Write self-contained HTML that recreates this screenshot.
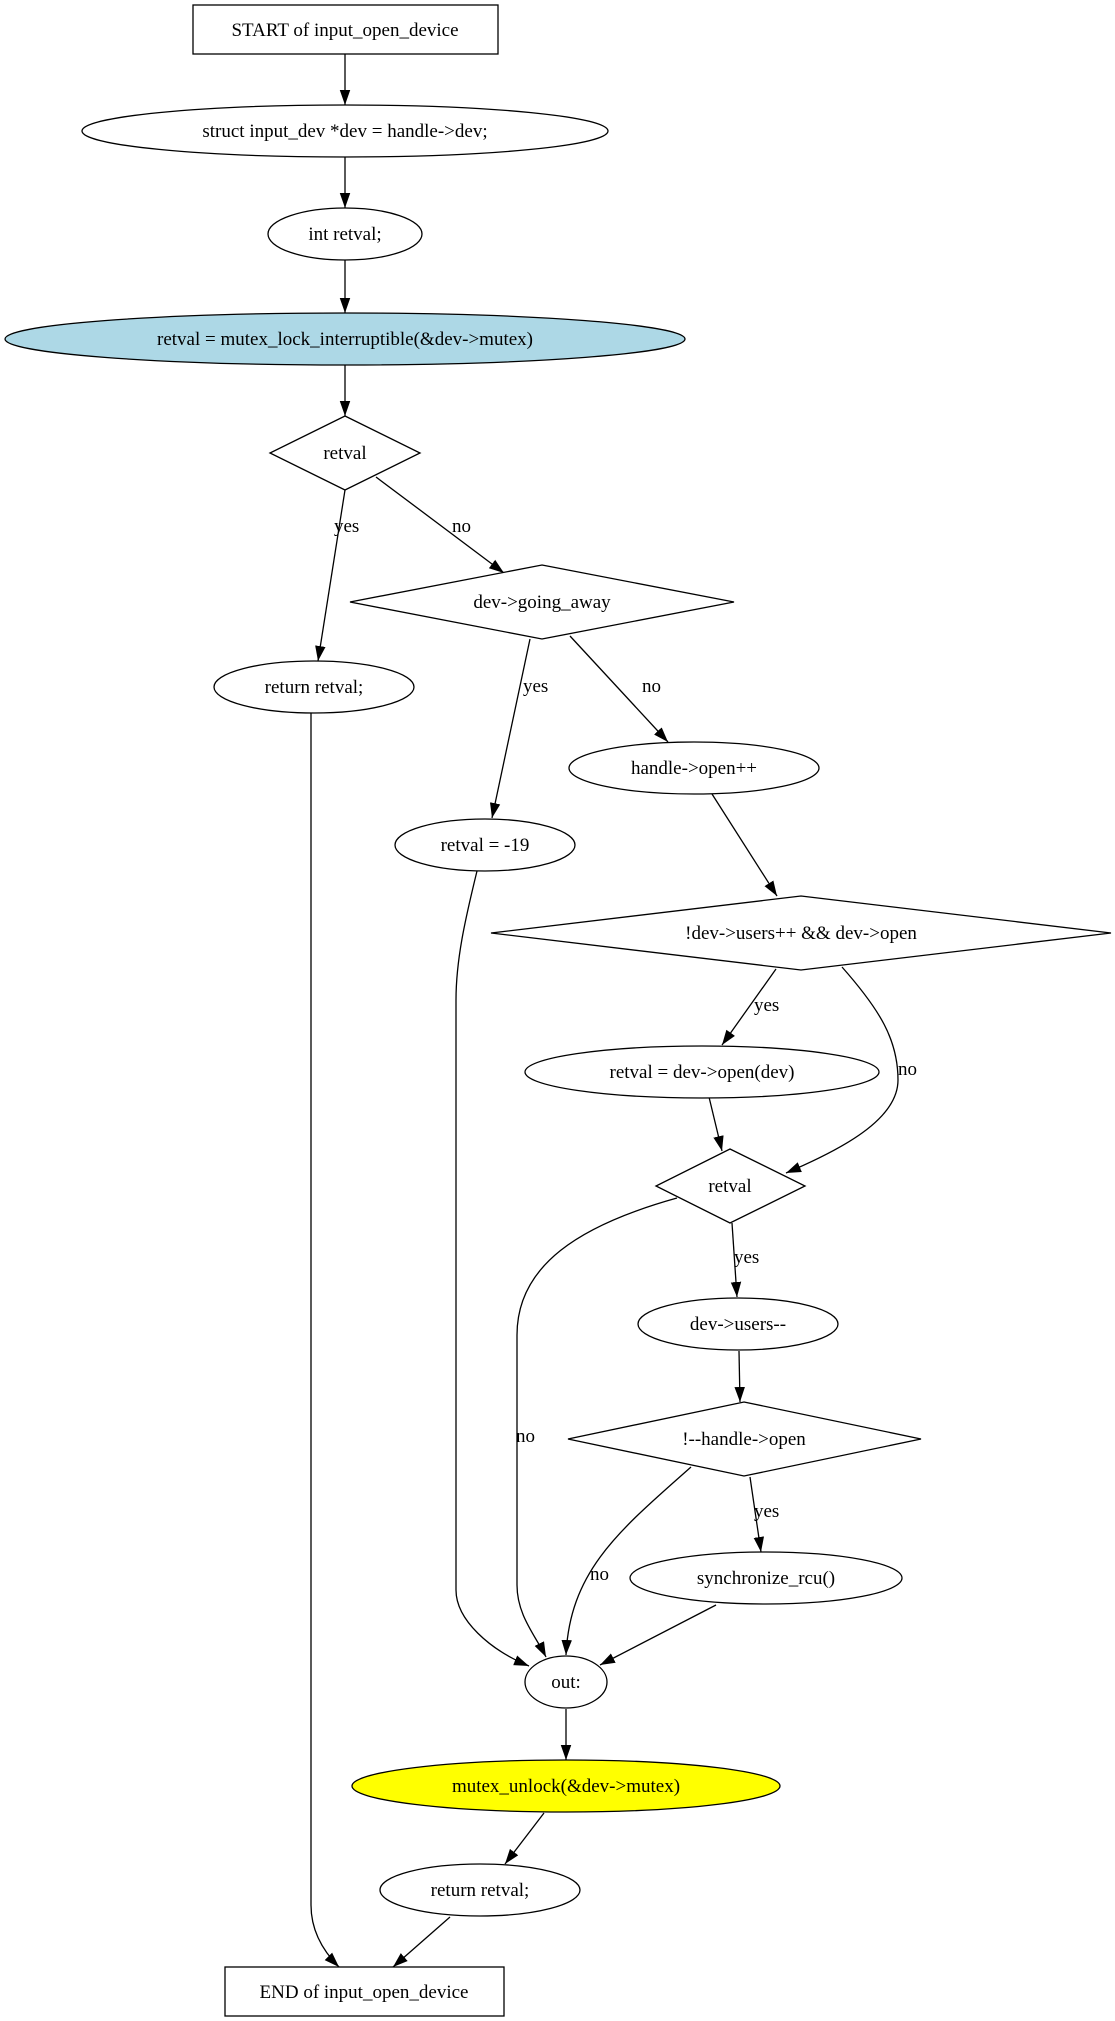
<!DOCTYPE html>
<html><head><meta charset="utf-8"><style>
html,body{margin:0;padding:0;background:#fff;}
svg{display:block;}
text{font-family:"Liberation Serif",serif;font-size:19px;fill:#000;}
</style></head><body>
<svg width="1115" height="2021" viewBox="0 0 1115 2021" xmlns="http://www.w3.org/2000/svg">
<defs>
<marker id="a" viewBox="0 0 10 10" refX="10" refY="5" markerWidth="15" markerHeight="15" markerUnits="userSpaceOnUse" orient="auto">
<path d="M0,1.5 L10,5 L0,8.5 z" fill="#000"/>
</marker>
</defs>
<g fill="none" stroke="#000" stroke-width="1.3" marker-end="url(#a)">
<path d="M345,54 L345,105"/>
<path d="M345,157 L345,208"/>
<path d="M345,260 L345,313"/>
<path d="M345,365 L345,416"/>
<path d="M345,490 L318,661"/>
<path d="M376,477 L504,573"/>
<path d="M530,639 L492,818"/>
<path d="M570,636 L668,742"/>
<path d="M712,794 L777,896"/>
<path d="M776,969 L722,1045"/>
<path d="M842,967 C880,1010 898,1040 898,1080 C898,1120 840,1150 786,1173"/>
<path d="M709,1097 L722,1151"/>
<path d="M732,1223 L737,1297"/>
<path d="M739,1351 L740,1402"/>
<path d="M750,1477 L761,1552"/>
<path d="M716,1605 L600,1665"/>
<path d="M691,1467 C620,1530 570,1570 566,1655"/>
<path d="M677,1198 C580,1225 517,1265 517,1335 L517,1585 C517,1615 535,1635 546,1657"/>
<path d="M477,871 C465,920 456,960 456,1000 L456,1590 C456,1620 490,1650 529,1666"/>
<path d="M311,713 L311,1905 C311,1930 322,1950 339,1967"/>
<path d="M566,1709 L566,1760"/>
<path d="M544,1813 L505,1864"/>
<path d="M450,1917 L393,1967"/>
</g>
<g stroke="#000" stroke-width="1.3">
<rect x="193" y="5" width="305" height="49" fill="#fff"/>
<ellipse cx="345" cy="131" rx="263" ry="26" fill="#fff"/>
<ellipse cx="345" cy="234" rx="77" ry="26" fill="#fff"/>
<ellipse cx="345" cy="339" rx="340" ry="26" fill="#add8e6"/>
<polygon points="345,416 420,453 345,490 270,453" fill="#fff"/>
<polygon points="542,565 734,602 542,639 350,602" fill="#fff"/>
<ellipse cx="314" cy="687" rx="100" ry="26" fill="#fff"/>
<ellipse cx="694" cy="768" rx="125" ry="26" fill="#fff"/>
<ellipse cx="485" cy="845" rx="90" ry="26" fill="#fff"/>
<polygon points="801,896 1111,933 801,970 491,933" fill="#fff"/>
<ellipse cx="702" cy="1072" rx="177" ry="26" fill="#fff"/>
<polygon points="730,1149 805,1186 730,1223 656,1186" fill="#fff"/>
<ellipse cx="738" cy="1324" rx="100" ry="26" fill="#fff"/>
<polygon points="744,1402 921,1439 744,1476 568,1439" fill="#fff"/>
<ellipse cx="766" cy="1578" rx="136" ry="26" fill="#fff"/>
<ellipse cx="566" cy="1682" rx="41" ry="26" fill="#fff"/>
<ellipse cx="566" cy="1786" rx="214" ry="26" fill="#ffff00"/>
<ellipse cx="480" cy="1890" rx="100" ry="26" fill="#fff"/>
<rect x="225" y="1967" width="279" height="49" fill="#fff"/>
</g>
<g text-anchor="middle">
<text x="345" y="36">START of input_open_device</text>
<text x="345" y="137">struct input_dev *dev = handle-&gt;dev;</text>
<text x="345" y="240">int retval;</text>
<text x="345" y="345">retval = mutex_lock_interruptible(&amp;dev-&gt;mutex)</text>
<text x="345" y="459">retval</text>
<text x="542" y="608">dev-&gt;going_away</text>
<text x="314" y="693">return retval;</text>
<text x="694" y="774">handle-&gt;open++</text>
<text x="485" y="851">retval = -19</text>
<text x="801" y="939">!dev-&gt;users++ &amp;&amp; dev-&gt;open</text>
<text x="702" y="1078">retval = dev-&gt;open(dev)</text>
<text x="730" y="1192">retval</text>
<text x="738" y="1330">dev-&gt;users--</text>
<text x="744" y="1445">!--handle-&gt;open</text>
<text x="766" y="1584">synchronize_rcu()</text>
<text x="566" y="1688">out:</text>
<text x="566" y="1792">mutex_unlock(&amp;dev-&gt;mutex)</text>
<text x="480" y="1896">return retval;</text>
<text x="364" y="1998">END of input_open_device</text>
</g>
<g>
<text x="334" y="532">yes</text>
<text x="452" y="532">no</text>
<text x="523" y="692">yes</text>
<text x="642" y="692">no</text>
<text x="754" y="1011">yes</text>
<text x="898" y="1075">no</text>
<text x="734" y="1263">yes</text>
<text x="516" y="1442">no</text>
<text x="590" y="1580">no</text>
<text x="754" y="1517">yes</text>
</g>
</svg>
</body></html>
